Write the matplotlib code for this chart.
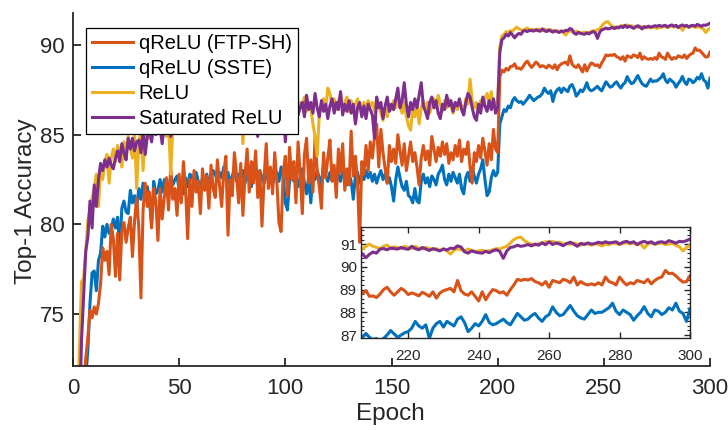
import matplotlib
matplotlib.use("Agg")
import matplotlib.pyplot as plt
from matplotlib.ticker import MultipleLocator

plt.rcParams['font.family'] = ['Liberation Sans', 'DejaVu Sans']

epochs = list(range(1, 301))

sat_relu = [
    58.0, 64.0, 69.0, 73.5, 76.0, 78.5, 79.3, 81.3, 79.8, 82.2,
    81.0, 82.5, 83.4, 83.0, 83.6, 83.2, 83.7, 83.3, 83.1, 83.7,
    84.1, 83.5, 84.5, 84.0, 83.6, 84.8, 84.2, 84.8, 84.1, 84.6,
    84.7, 84.0, 85.2, 83.9, 84.9, 85.3, 84.6, 85.5, 85.0, 85.1,
    85.4, 84.5, 85.6, 85.2, 85.8, 84.9, 85.5, 86.0, 85.3, 85.7,
    86.1, 85.4, 85.9, 86.2, 85.5, 86.0, 86.4, 85.7, 86.1, 85.8,
    86.3, 85.9, 86.5, 86.0, 86.4, 85.7, 86.2, 86.6, 86.0, 86.3,
    86.5, 85.9, 86.4, 86.7, 86.1, 86.5, 85.8, 86.6, 86.2, 86.8,
    86.3, 86.0, 86.7, 86.2, 86.5, 85.9, 84.9, 86.8, 86.1, 86.6,
    86.0, 86.5, 86.9, 86.2, 85.6, 86.7, 86.3, 86.0, 86.8, 84.6,
    86.4, 86.9, 86.2, 86.6, 87.0, 86.1, 86.5, 86.8, 86.0, 87.2,
    86.4, 86.8, 86.2, 87.3, 86.5, 86.0, 86.9, 86.3, 86.7, 85.9,
    86.6, 87.0, 86.2, 86.8, 86.4, 87.4, 86.1, 86.7, 86.3, 86.9,
    86.2, 86.7, 85.6, 86.5, 86.8, 86.0, 86.6, 85.9, 86.7, 86.4,
    86.1, 84.8, 87.1, 86.5, 86.8, 85.9, 86.6, 87.1, 86.3, 86.7,
    86.4, 87.0, 87.6, 86.5, 86.9, 87.9, 86.7, 86.0, 86.8, 86.4,
    87.0, 86.5, 87.2, 87.9, 86.6, 86.3, 85.9, 86.8, 87.1, 86.5,
    86.9, 86.2, 85.9, 86.7, 86.4, 87.2, 86.6, 86.9, 86.3, 86.8,
    86.6, 87.0, 86.4, 86.1, 86.8, 87.3, 87.1, 86.5, 86.0, 85.8,
    86.7, 86.2, 87.1, 86.6, 86.3, 86.9, 86.4, 87.0, 86.2, 86.5,
    89.6, 90.3, 90.4, 90.6, 90.5, 90.7, 90.56, 90.4, 90.55, 90.65,
    90.6, 90.78, 90.8, 90.75, 90.82, 90.8, 90.78, 90.85, 90.8, 90.77,
    90.9, 90.8, 90.75, 90.85, 90.78, 90.72, 90.8, 90.75, 90.7, 90.78,
    90.74, 90.82, 90.8, 90.92, 90.87, 90.66, 90.6, 90.7, 90.65, 90.62,
    90.6, 90.68, 90.62, 90.7, 90.75, 90.68, 90.37, 90.7, 90.85, 90.88,
    90.95, 90.9, 90.93, 90.98, 90.92, 91.0, 90.95, 91.05, 90.97, 91.1,
    90.98, 91.05, 91.0, 90.93, 91.02, 91.08, 91.0, 90.9, 91.03, 90.98,
    91.05, 91.0, 91.02, 91.08, 91.04, 91.1, 91.05, 91.07, 91.1, 91.0,
    91.08, 91.12, 91.05, 91.1, 90.98, 91.07, 91.12, 91.05, 91.1, 91.0,
    91.08, 91.1, 91.05, 91.15, 91.1, 91.04, 91.12, 91.1, 91.15, 91.22,
]

relu = [
    62.0, 68.0, 73.0, 76.8, 77.0, 78.5, 80.2, 80.8, 81.5, 82.0,
    82.8, 81.0, 83.2, 82.5, 83.5, 83.9, 82.3, 83.7, 84.2, 83.5,
    84.4, 84.0, 83.2, 84.6, 84.1, 84.9, 84.3, 83.7, 85.0, 82.0,
    84.5, 85.2, 83.0, 85.0, 85.6, 84.8, 85.4, 85.9, 85.1, 85.6,
    85.3, 86.0, 85.5, 84.9, 85.8, 82.8, 85.4, 85.9, 86.2, 85.6,
    86.0, 85.4, 86.3, 85.8, 86.1, 86.5, 85.7, 86.2, 86.6, 85.9,
    86.4, 86.0, 86.7, 86.1, 86.5, 86.8, 86.2, 86.6, 86.9, 86.3,
    86.7, 86.2, 86.8, 86.4, 85.1, 86.6, 86.9, 86.3, 86.8, 84.5,
    86.4, 86.8, 86.2, 86.9, 86.5, 86.1, 86.7, 86.3, 86.9, 86.4,
    86.8, 86.2, 86.6, 87.0, 86.3, 86.7, 86.1, 86.8, 86.5, 86.9,
    86.3, 86.7, 85.2, 86.9, 86.4, 86.1, 86.8, 86.5, 87.1, 86.3,
    86.8, 86.5, 85.6, 84.9, 83.8, 86.2, 86.7, 87.0, 86.4, 87.6,
    87.3, 86.6, 87.0, 86.4, 86.9, 87.2, 86.5, 86.8, 87.1, 86.3,
    86.9, 86.4, 86.7, 87.0, 86.5, 86.2, 86.8, 86.4, 86.9, 86.6,
    86.8, 86.3, 87.0, 86.6, 86.2, 85.8, 86.5, 86.0, 86.7, 86.4,
    86.9, 86.5, 87.1, 86.6, 86.2, 86.8, 86.0, 85.5, 85.25, 86.4,
    86.0, 86.7, 85.6, 86.5, 86.9, 86.4, 86.8, 86.2, 86.6, 87.0,
    86.5, 87.2, 86.7, 86.3, 86.9, 86.5, 87.0, 86.6, 86.2, 86.8,
    86.4, 86.9, 86.6, 86.2, 87.0, 86.7, 88.1, 86.9, 86.5, 86.8,
    86.3, 86.9, 86.6, 87.0, 87.3, 86.8, 87.4, 86.5, 86.8, 86.9,
    89.9, 90.5, 90.6, 90.75, 90.7, 90.8, 90.78, 90.9, 91.0, 90.9,
    90.85, 90.8, 90.9, 90.95, 90.82, 90.88, 90.85, 90.8, 90.9, 90.85,
    90.8, 90.9, 90.82, 90.78, 90.86, 90.8, 90.75, 90.8, 90.72, 90.8,
    90.7, 90.56, 90.72, 90.8, 90.75, 90.7, 90.78, 90.72, 90.68, 90.7,
    90.72, 90.68, 90.7, 90.75, 90.8, 90.78, 90.85, 90.9, 91.05, 91.2,
    91.28, 91.3, 91.15, 91.05, 91.0, 90.95, 91.02, 91.05, 91.1, 91.08,
    91.12, 91.05, 91.08, 91.0, 91.03, 90.98, 91.05, 91.0, 90.95, 91.02,
    91.0, 90.95, 91.02, 90.98, 90.92, 91.0, 90.97, 91.05, 91.02, 90.98,
    91.03, 91.06, 91.0, 91.05, 90.97, 91.02, 90.82, 91.0, 91.05, 91.0,
    91.02, 91.05, 90.98, 91.0, 91.03, 90.95, 90.88, 90.7, 90.85, 90.95,
]

ftp_sh = [
    60.0, 64.0, 67.0, 69.5, 71.0, 72.5, 73.7, 75.2, 74.8, 75.4,
    75.0, 75.6, 76.7, 78.7, 78.0, 78.5, 77.2, 80.0, 79.2, 77.1,
    79.5, 76.9, 79.6, 80.1, 79.0, 79.8, 80.4, 78.2, 80.2, 81.5,
    79.8, 75.9, 80.8, 82.3, 81.0, 81.8, 79.8, 82.0, 81.3, 79.1,
    82.0, 80.3, 81.5, 82.6, 80.8, 83.2, 81.4, 82.0, 80.5, 82.8,
    81.2, 83.5, 82.0, 79.2, 82.5, 81.0, 83.0, 81.8, 82.4, 80.6,
    83.1, 81.9, 82.7, 80.9, 83.3, 82.0, 81.5, 83.6, 82.2, 81.0,
    82.9, 83.8, 79.4, 82.5, 81.6, 84.0, 82.8, 81.2, 83.4, 80.5,
    82.7, 84.2, 81.8, 83.5, 82.3, 84.1, 81.5, 83.0, 79.9, 82.6,
    84.5, 82.0, 83.2, 81.7, 84.0, 82.4, 80.1, 79.6, 82.9, 83.8,
    81.6, 84.3, 82.5, 83.5, 81.2, 84.6, 82.8, 80.6, 83.9, 84.8,
    82.3, 83.6, 81.8, 84.9, 83.0, 82.1, 80.9, 84.0, 82.6, 83.7,
    84.7, 82.4, 83.3, 81.5, 84.2, 82.9, 84.5, 81.9, 83.1, 82.2,
    85.2, 82.7, 83.8, 82.4, 79.0, 83.5, 82.8, 84.4, 83.0, 84.6,
    83.7, 84.9, 85.6, 83.2, 85.3, 84.0, 83.1, 82.3, 84.4, 83.5,
    84.2, 83.4, 85.0, 84.1, 83.3, 84.5, 83.0, 83.8, 84.6, 83.5,
    84.0, 83.2, 82.2, 83.7, 84.4, 83.6, 84.1, 83.3, 84.9, 84.2,
    83.5, 84.3, 83.8, 84.6, 83.9, 84.5, 83.4, 84.0, 83.6, 84.4,
    83.8, 84.7, 83.5, 84.2, 83.9, 84.6, 83.2, 82.3, 84.0, 83.5,
    84.4, 83.7, 84.8, 84.1, 83.3, 84.5, 83.6, 85.3, 84.2, 84.0,
    88.2, 88.6, 88.5, 88.7, 88.6, 88.8, 88.82, 88.95, 88.7, 88.72,
    88.65, 88.8, 89.0, 89.1, 88.9, 88.75, 88.9, 89.05, 88.95, 88.78,
    88.85, 88.8, 88.72, 88.88, 88.8, 88.7, 88.9, 88.62, 88.85, 88.95,
    89.0, 89.05, 88.9, 89.4, 88.95, 88.8, 88.75, 88.9, 88.7, 88.5,
    88.9, 88.55, 88.8, 89.0, 88.95, 88.85, 88.9, 88.75, 89.0, 89.2,
    89.45, 89.4, 89.45, 89.42, 89.48, 89.35, 89.3, 89.2, 89.35, 89.1,
    89.4, 89.35, 89.3, 89.45, 89.4, 89.3, 89.55, 89.2, 89.35, 89.25,
    89.2, 89.25, 89.2, 89.3, 89.2, 89.55, 89.35, 89.3, 89.2, 89.55,
    89.35, 89.2, 89.3, 89.25, 89.4, 89.35, 89.3, 89.45, 89.25, 89.4,
    89.5, 89.55, 89.84, 89.7, 89.72, 89.6, 89.45, 89.33, 89.35, 89.6,
]

sste = [
    58.0, 62.0, 65.5, 68.0, 70.0, 71.5, 73.0, 75.6, 77.3, 77.4,
    76.3, 78.0, 78.4, 79.9, 79.3, 80.0, 79.5, 79.7, 80.3, 79.8,
    80.4, 78.6, 80.9, 81.3, 80.7, 80.6, 81.9, 81.2, 81.6, 80.9,
    82.0, 81.4, 82.3, 81.5, 82.1, 81.3, 80.0, 82.4, 81.7, 81.9,
    82.5, 81.8, 82.5, 82.0, 81.6, 82.7, 82.2, 82.5, 82.7, 81.9,
    82.3, 81.7, 82.6, 82.1, 82.8, 82.7, 82.2, 82.9, 82.4, 82.0,
    82.6, 82.3, 82.8, 82.1, 82.5, 83.0, 82.8, 82.4, 82.9, 82.6,
    83.2, 82.5, 82.9, 82.2, 82.7, 83.1, 82.4, 82.8, 82.6, 83.0,
    82.3, 82.9, 82.5, 82.1, 83.4, 82.8, 82.4, 83.0, 82.6, 82.3,
    82.8, 82.5, 83.1, 82.2, 82.7, 82.9, 82.4, 83.2, 82.6, 81.2,
    80.8, 82.5, 83.0, 82.4, 82.8, 82.1, 82.6, 83.1, 82.3, 81.7,
    82.7, 81.2, 82.9, 82.5, 83.0, 82.6, 82.2, 83.4, 82.7, 82.4,
    82.9, 82.5, 83.1, 82.3, 82.8, 82.4, 82.9, 82.6, 82.2, 82.8,
    82.4, 81.4, 82.7, 82.9, 82.3, 82.8, 82.5, 83.0, 82.6, 82.9,
    82.4, 82.8, 82.3, 82.7, 83.0, 82.5, 82.8, 82.3, 82.6, 82.1,
    81.3, 82.5, 83.2, 82.6, 82.1, 81.9, 82.4, 81.6, 81.5, 81.2,
    82.0, 81.3, 81.2, 82.4, 82.8, 82.3, 82.6, 82.1, 82.7, 82.5,
    82.2, 82.8, 83.0, 83.3, 82.5, 82.2, 82.8, 82.4, 82.9, 82.6,
    82.3, 82.8, 82.0, 81.7, 82.6, 82.9, 82.4, 83.2, 82.7, 82.3,
    82.8, 83.1, 83.6, 82.5, 81.6, 81.8, 82.6, 83.0, 82.7, 82.9,
    85.6, 86.0, 86.4, 86.3, 86.6, 86.5, 86.9, 87.07, 86.9, 86.8,
    86.85, 86.7, 86.85, 87.0, 87.2, 87.05, 86.9, 87.0, 87.1, 87.15,
    87.3, 87.6, 87.4, 87.3, 87.45, 86.85, 87.3, 87.5, 87.6, 87.35,
    87.6, 87.5, 87.4, 87.7, 87.8, 87.55, 87.15, 87.3, 87.5, 87.4,
    87.6, 87.9, 87.55, 87.45, 87.5, 87.6, 87.7, 87.55, 87.45, 87.7,
    87.95, 87.8, 87.65, 87.7, 87.85, 87.95, 87.75, 87.6, 87.8, 87.9,
    88.24, 88.0, 87.85, 87.9, 88.1, 88.3, 88.05, 87.85, 87.75, 87.7,
    87.9, 88.1, 87.95, 88.0, 88.0, 88.1, 88.2, 88.4, 88.05, 87.9,
    88.1, 88.0, 87.9, 87.65, 87.85, 88.0, 88.25, 87.95, 87.8, 88.1,
    88.05, 87.9, 88.0, 88.2, 88.1, 88.4, 88.05, 87.95, 87.6, 88.15,
]

labels = ["qReLU (FTP-SH)", "qReLU (SSTE)", "ReLU", "Saturated ReLU"]
colors = ["#D95319", "#0072BD", "#EDB120", "#7E2F8E"]
series = [ftp_sh, sste, relu, sat_relu]
draw_order = [1, 0, 2, 3]

axis_col = "#262626"
W, H = 728, 430
fig = plt.figure(figsize=(W / 100, H / 100), dpi=100)

# main axes (pixel box: x 73..710, y 13.3..365.7)
L, R, T, B = 73, 710, 13.3, 365.7
ax = fig.add_axes([L / W, 1 - B / H, (R - L) / W, (B - T) / H])
handles = [None] * 4
for i in draw_order:
    h, = ax.plot(epochs, series[i], color=colors[i], lw=2.2, label=labels[i])
    handles[i] = h
ax.set_xlim(0, 300)
ax.set_ylim(72.12, 91.77)
ax.set_xticks([0, 50, 100, 150, 200, 250, 300])
ax.set_yticks([75, 80, 85, 90])
for s in ['top', 'right']:
    ax.spines[s].set_visible(False)
for s in ['left', 'bottom']:
    ax.spines[s].set_color(axis_col)
    ax.spines[s].set_linewidth(1.3)
ax.tick_params(axis='both', direction='in', length=6, width=1.3, colors=axis_col,
               labelsize=16)
ax.tick_params(axis='x', pad=9)
ax.tick_params(axis='y', pad=6)
ax.set_xlabel("Epoch", fontsize=17.5, color=axis_col)
ax.set_ylabel("Top-1 Accuracy", fontsize=17.5, color=axis_col)
ax.xaxis.set_label_coords((390 - L) / (R - L), (B - 403) / (B - T))
ax.yaxis.set_label_coords((37 - L) / (R - L), (B - 201) / (B - T))

leg = ax.legend(handles=handles, labels=labels, loc='upper left',
                bbox_to_anchor=((86 - L) / (R - L), (B - 27.7) / (B - T)),
                borderaxespad=0, fontsize=14.4, frameon=True, fancybox=False,
                framealpha=1, edgecolor='black', handlelength=2.05,
                handletextpad=0.28, labelspacing=0.3, borderpad=0.3)
leg.get_frame().set_linewidth(0.9)

# inset axes (pixel box: x 361..690, y 227..338)
iL, iR, iT, iB = 361, 690, 227, 338
axin = fig.add_axes([iL / W, 1 - iB / H, (iR - iL) / W, (iB - iT) / H])
for i in draw_order:
    axin.plot(epochs, series[i], color=colors[i], lw=2.2)
axin.set_xlim(206.6, 300)
axin.set_ylim(86.87, 91.75)
axin.set_xticks([220, 240, 260, 280, 300])
axin.set_yticks([87, 88, 89, 90, 91])
axin.yaxis.set_minor_locator(MultipleLocator(0.2))
for s in axin.spines.values():
    s.set_color(axis_col)
    s.set_linewidth(1.0)
axin.tick_params(axis='both', which='major', direction='in', length=4, width=1.0,
                 colors=axis_col, labelsize=11, top=True, right=True)
axin.tick_params(axis='y', which='minor', direction='in', length=2.5, width=0.8,
                 colors=axis_col, left=True, right=True)
axin.tick_params(axis='x', pad=8)
axin.tick_params(axis='y', pad=3)

fig.savefig("out.png", dpi=100)
